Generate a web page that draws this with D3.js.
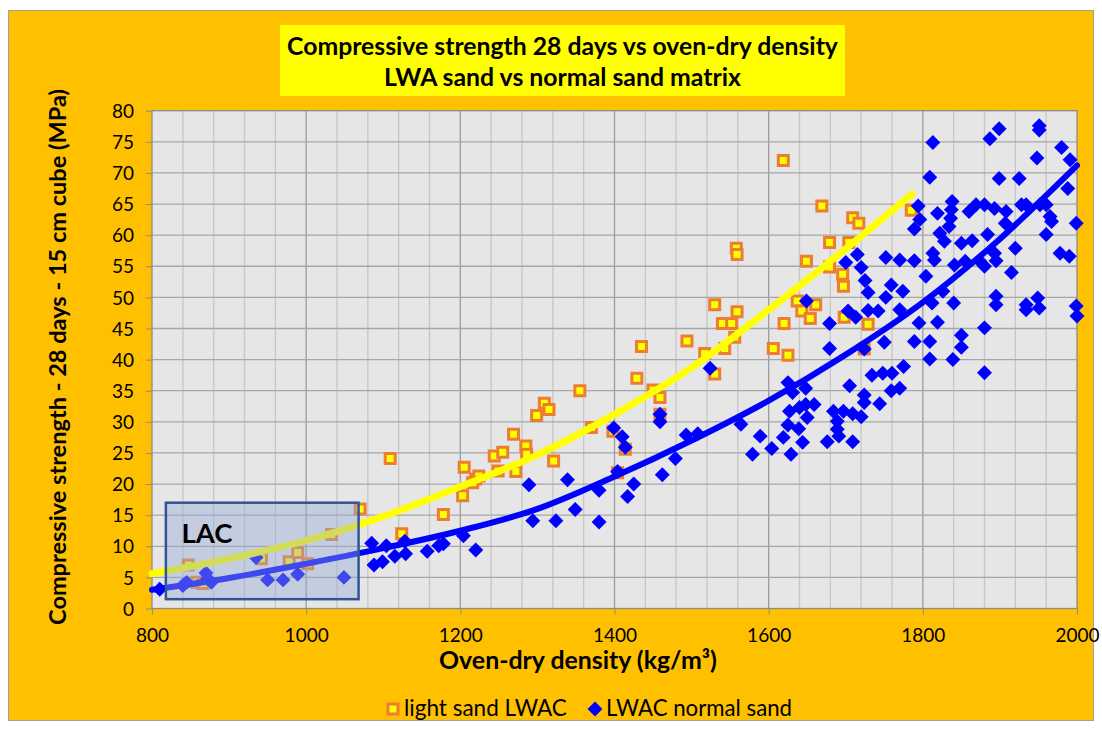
<!DOCTYPE html>
<html><head><meta charset="utf-8">
<script src="https://cdn.jsdelivr.net/npm/d3@7"></script>
<style>body{margin:0;background:#fff}svg{display:block}text{font-family:Lato,"Open Sans",sans-serif}</style>
</head><body><svg id="c" width="1102" height="729"></svg>
<script>
const titleLines = ["Compressive strength 28 days vs oven-dry density", "LWA sand vs normal sand matrix"];
const xTitle = "Oven-dry density (kg/m³)";
const yTitle = "Compressive strength - 28 days - 15 cm cube (MPa)";
const seriesNames = ["light sand LWAC", "LWAC normal sand"];
const xTicks = [800, 1000, 1200, 1400, 1600, 1800, 2000];
const yTicks = [0, 5, 10, 15, 20, 25, 30, 35, 40, 45, 50, 55, 60, 65, 70, 75, 80];
const lacLabel = "LAC";
const lacRange = {x: [818, 1068], y: [1.5, 17]};

const lightSand = [
 [847,7.0],[858,4.2],[866,4.0],[942,8.0],[978,7.5],[989,9.0],[1002,7.2],[1033,11.9],[1070,16.0],[1109,24.1],
 [1124,12.0],[1178,15.1],[1203,18.1],[1205,22.7],[1220,20.8],[1224,21.3],[1216,20.2],[1244,24.5],[1255,25.1],
 [1249,22.1],[1269,28.0],[1285,26.1],[1286,24.8],[1272,22.0],[1299,31.0],[1309,33.0],[1315,32.0],[1321,23.7],
 [1355,35.0],[1370,29.1],[1398,28.5],[1414,25.6],[1429,37.0],[1435,42.1],[1450,35.1],[1459,33.9],[1459,31.2],
 [1404,21.8],[1494,43.0],[1517,41.0],[1619,72.0],[1669,64.7],[1709,62.8],[1717,61.9],[1679,58.8],[1704,58.8],
 [1649,55.8],[1679,54.9],[1696,53.7],[1697,51.8],[1558,57.9],[1559,56.9],[1530,48.8],[1559,47.7],[1540,45.8],
 [1552,45.8],[1556,43.6],[1543,41.8],[1530,37.7],[1620,45.8],[1606,41.8],[1625,40.7],[1637,49.4],[1643,47.8],
 [1661,48.8],[1654,46.6],[1698,46.8],[1729,45.7],[1724,41.7],[1785,64.0]
];
const normalSand = [
 [810,3.1],[840,3.7],[845,4.2],[870,5.7],[877,4.2],[872,4.8],[935,8.2],[950,4.6],[970,4.6],[989,5.5],[1049,5.0],
 [1085,10.5],[1088,7.0],[1099,7.5],[1104,10.1],[1115,8.4],[1129,8.8],[1128,10.8],[1157,9.2],[1172,10.1],[1178,10.4],
 [1204,11.7],[1220,9.4],[1289,19.9],[1339,20.7],[1294,14.1],[1324,14.1],[1349,15.9],[1380,19.0],[1380,13.9],
 [1399,29.0],[1410,27.6],[1414,25.9],[1404,22.0],[1425,20.0],[1417,18.0],[1459,31.2],[1459,30.0],[1462,21.5],
 [1479,24.1],[1493,27.9],[1508,28.1],[1524,38.6],[1564,29.6],[1589,27.7],[1579,24.8],[1604,25.7],[1619,27.5],
 [1629,24.8],[1644,26.7],[1625,36.3],[1631,34.7],[1648,35.4],[1627,31.7],[1640,32.3],[1648,32.8],[1659,32.8],
 [1650,30.7],[1625,29.5],[1639,28.9],[1676,26.8],[1684,31.7],[1689,30.1],[1689,28.8],[1691,27.7],[1697,31.7],
 [1705,35.8],[1709,31.3],[1720,30.8],[1709,26.8],[1724,34.3],[1724,33.1],[1734,37.5],[1744,32.9],[1748,37.8],
 [1760,37.8],[1775,38.9],[1759,35.0],[1770,35.4],[1679,45.8],[1679,41.8],[1649,49.4],[1700,55.6],[1715,56.9],
 [1720,54.8],[1725,52.7],[1729,50.8],[1703,47.8],[1713,46.8],[1729,47.9],[1742,47.8],[1724,41.7],[1750,42.8],
 [1752,56.4],[1752,50.0],
 [1813,74.9],[1809,69.3],[1899,77.1],[1887,75.5],[1951,77.6],[1951,76.9],[1980,74.1],[1991,72.1],[1948,72.4],
 [1899,69.1],[1925,69.1],[1988,67.5],[1794,64.7],[1819,63.5],[1838,65.4],[1837,64.1],[1836,62.7],[1834,61.4],
 [1860,63.8],[1869,64.9],[1880,64.9],[1893,64.3],[1908,63.8],[1928,64.9],[1934,64.9],[1952,64.9],[1960,64.9],
 [1965,63.0],[1967,62.2],[1960,60.1],[1999,61.9],[1907,61.9],[1796,62.5],[1789,61.0],[1822,60.3],[1828,59.0],
 [1850,58.7],[1864,59.1],[1884,60.1],[1920,57.9],[1770,56.0],[1789,55.9],[1813,57.1],[1815,56.0],[1841,55.2],
 [1855,55.8],[1874,55.8],[1880,55.0],[1893,57.1],[1895,55.9],[1915,54.0],[1978,57.1],[1990,56.6],[1804,53.4],
 [1759,52.0],[1774,51.0],[1812,49.1],[1826,51.0],[1840,49.1],[1770,48.0],[1895,50.2],[1895,48.8],[1934,48.8],
 [1949,49.9],[1951,48.3],[1934,48.0],[1999,48.6],[2000,47.0],[1795,45.9],[1819,46.0],[1880,45.1],[1789,42.9],
 [1809,42.9],[1850,43.9],[1850,42.0],[1809,40.1],[1839,40.0],[1880,37.9]
];
const lightTrend = [[800,5.6],[900,8.0],[1000,10.9],[1100,14.8],[1200,19.6],[1300,24.7],[1400,31.2],[1500,38.7],[1600,48.0],[1700,57.8],[1786,66.6]];
const normalTrend = [[800,3.0],[900,4.9],[1000,7.2],[1100,9.7],[1200,12.5],[1300,16.0],[1400,21.2],[1500,27.0],[1600,33.4],[1700,40.8],[1800,49.2],[1900,59.4],[2000,71.2]];

const svg = d3.select("#c");
const L = 152, R = 1077, T = 110.7, B = 608.5;
const x = d3.scaleLinear().domain([800, 2000]).range([L, R]);
const y = d3.scaleLinear().domain([0, 80]).range([B, T]);

function fit(sel, target) {
  const w = sel.node().getComputedTextLength();
  const fs = parseFloat(sel.attr("font-size"));
  sel.attr("font-size", (fs * target / w).toFixed(2));
  return sel;
}

// chart background
svg.append("rect").attr("x", 8.5).attr("y", 10.5).attr("width", 1085).attr("height", 710)
  .attr("fill", "#ffc000").attr("stroke", "#a0a0a0").attr("stroke-width", 1);

// title box
svg.append("rect").attr("x", 280).attr("y", 25).attr("width", 565).attr("height", 71).attr("fill", "#ffff00");
fit(svg.append("text").attr("x", 562.5).attr("y", 55).attr("text-anchor", "middle")
  .attr("font-weight", 700).attr("font-size", 22).attr("fill", "#000").text(titleLines[0]), 551);
fit(svg.append("text").attr("x", 562.5).attr("y", 86).attr("text-anchor", "middle")
  .attr("font-weight", 700).attr("font-size", 22).attr("fill", "#000").text(titleLines[1]), 357);

// plot area
svg.append("rect").attr("x", L).attr("y", T).attr("width", R - L).attr("height", B - T).attr("fill", "#e6e6e6");

const minorX = d3.range(840, 2000, 40).filter(v => v % 200 !== 0);
svg.append("g").selectAll("line").data(minorX).join("line")
  .attr("x1", d => x(d)).attr("x2", d => x(d)).attr("y1", T).attr("y2", B)
  .attr("stroke", "#c6c6c6").attr("stroke-width", 1.3);
svg.append("g").selectAll("line").data(xTicks.slice(1, -1)).join("line")
  .attr("x1", d => x(d)).attr("x2", d => x(d)).attr("y1", T).attr("y2", B)
  .attr("stroke", "#9c9c9c").attr("stroke-width", 1.3);
svg.append("g").selectAll("line").data(yTicks.slice(1, -1)).join("line")
  .attr("x1", L).attr("x2", R).attr("y1", d => y(d)).attr("y2", d => y(d))
  .attr("stroke", "#a6a6a6").attr("stroke-width", 1.3);

// axes
const xAxis = svg.append("g").attr("transform", `translate(0,${B})`)
  .call(d3.axisBottom(x).tickValues(xTicks).tickFormat(d3.format("d")).tickSize(6).tickPadding(14));
const yAxis = svg.append("g").attr("transform", `translate(${L},0)`)
  .call(d3.axisLeft(y).tickValues(yTicks).tickSize(6).tickPadding(12));
[xAxis, yAxis].forEach(a => {
  a.select(".domain").remove();
  a.selectAll(".tick line").attr("stroke", "#8c8c8c");
  a.selectAll(".tick text").attr("font-family", "Lato, sans-serif").attr("font-size", 19).attr("fill", "#000");
});
yAxis.selectAll(".tick text").attr("dy", "0.35em");

svg.append("rect").attr("x", L).attr("y", T).attr("width", R - L).attr("height", B - T)
  .attr("fill", "none").attr("stroke", "#8c8c8c").attr("stroke-width", 1.3);

// axis titles
fit(svg.append("text").attr("x", 578).attr("y", 669).attr("text-anchor", "middle")
  .attr("font-weight", 700).attr("font-size", 20).attr("fill", "#000").text(xTitle), 278);
fit(svg.append("text").attr("transform", "translate(66,357) rotate(-90)").attr("text-anchor", "middle")
  .attr("font-weight", 700).attr("font-size", 20).attr("fill", "#000").text(yTitle), 536);

// markers
const sq = d3.symbol().type(d3.symbolSquare).size(100);
const dm = d3.symbol().type(d3.symbolSquare).size(112);
const plot = svg.append("g");
plot.selectAll("path.ls").data(lightSand).join("path").attr("class", "ls")
  .attr("transform", d => `translate(${x(d[0])},${y(d[1])})`).attr("d", sq)
  .attr("fill", "#ffff00").attr("stroke", "#ed7d31").attr("stroke-width", 3);
plot.selectAll("path.ns").data(normalSand).join("path").attr("class", "ns")
  .attr("transform", d => `translate(${x(d[0])},${y(d[1])}) rotate(45)`).attr("d", dm)
  .attr("fill", "#0000ff");

// trend lines
const line = d3.line().x(d => x(d[0])).y(d => y(d[1])).curve(d3.curveMonotoneX);
plot.append("path").datum(lightTrend).attr("d", line).attr("fill", "none")
  .attr("stroke", "#ffff00").attr("stroke-width", 7).attr("stroke-linecap", "round");
plot.append("path").datum(normalTrend).attr("d", line).attr("fill", "none")
  .attr("stroke", "#0000ff").attr("stroke-width", 6).attr("stroke-linecap", "round");

// LAC box
svg.append("rect").attr("x", x(lacRange.x[0])).attr("y", y(lacRange.y[1]))
  .attr("width", x(lacRange.x[1]) - x(lacRange.x[0])).attr("height", y(lacRange.y[0]) - y(lacRange.y[1]))
  .attr("fill", "rgba(150,172,215,0.42)").attr("stroke", "#2f5597").attr("stroke-width", 2.5);
fit(svg.append("text").attr("x", 181.5).attr("y", 543).attr("font-weight", 700).attr("font-size", 26)
  .attr("fill", "#000").text(lacLabel), 51);

// legend
const lg = svg.append("g");
lg.append("path").attr("transform", "translate(393,709)").attr("d", sq)
  .attr("fill", "#ffff00").attr("stroke", "#ed7d31").attr("stroke-width", 3);
fit(lg.append("text").attr("x", 404).attr("y", 716).attr("font-size", 19).attr("fill", "#000").text(seriesNames[0]), 163);
lg.append("path").attr("transform", "translate(595,709) rotate(45)").attr("d", dm).attr("fill", "#0000ff");
fit(lg.append("text").attr("x", 606).attr("y", 716).attr("font-size", 19).attr("fill", "#000").text(seriesNames[1]), 186);
</script></body></html>
